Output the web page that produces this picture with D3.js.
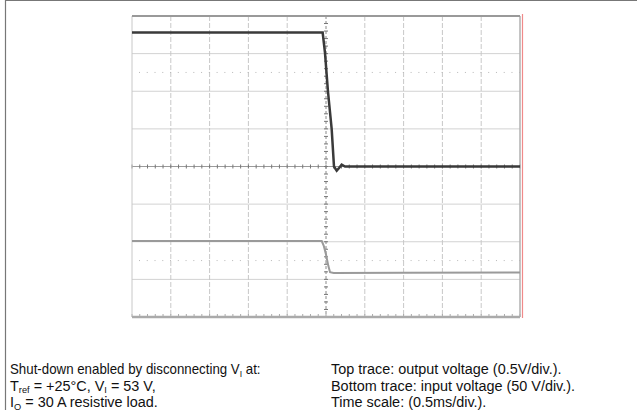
<!DOCTYPE html>
<html>
<head>
<meta charset="utf-8">
<script src="https://cdn.jsdelivr.net/npm/d3@7"></script>
<style>
  body { margin: 0; background: #fff; }
  text { font-family: "Liberation Sans", Arial, sans-serif; fill: #111; }
</style>
</head>
<body>
<div id="graph"></div>
<script>
// time in ms (0.5 ms/div), centre of screen = 0
const timeTicks = [-2.5, -2, -1.5, -1, -0.5, 0, 0.5, 1, 1.5, 2, 2.5];
// vertical divisions
const divTicks = [-4, -3, -2, -1, 0, 1, 2, 3, 4];
const markerDivs = [2.5, -2.5];

// top trace: output voltage, volts (0.5 V/div, ground at centre)
const outTime = [-2.5, -0.043, -0.013, 0.026, 0.073, 0.103, 0.138, 0.168, 0.202, 0.245, 2.5];
const outVolt = [1.78, 1.78, 1.51, 0.99, 0.5, 0.0, -0.055, -0.02, 0.025, 0.0, 0.0];

// bottom trace: input voltage, volts (50 V/div, ground at -3 div)
const inTime = [-2.5, -0.055, -0.03, 0.0, 0.03, 0.052, 0.1, 1.0, 2.5];
const inVolt = [51, 51, 45, 33, 18, 9.5, 8.6, 8.8, 9.2];

const leftNotes = [
  [["Shut-down enabled by disconnecting V"], ["I", "sub"], [" at:"]],
  [["T"], ["ref", "sub"], [" = +25°C, V"], ["I", "sub"], [" = 53 V,"]],
  [["I"], ["O", "sub"], [" = 30 A resistive load."]]
];
const rightNotes = [
  "Top trace: output voltage (0.5V/div.).",
  "Bottom trace: input voltage (50 V/div.).",
  "Time scale: (0.5ms/div.)."
];

const w = 637, h = 419;
const plot = { left: 132, right: 520, top: 16, bottom: 317 };

const svg = d3.select("#graph").append("svg")
  .attr("width", w).attr("height", h);

// page frame
svg.append("line").attr("x1", 5.5).attr("x2", w).attr("y1", 0.5).attr("y2", 0.5)
  .attr("stroke", "#777").attr("stroke-width", 1.2);
svg.append("line").attr("x1", 5.5).attr("x2", 5.5).attr("y1", 0).attr("y2", 410)
  .attr("stroke", "#777").attr("stroke-width", 1.2);

const xScale = d3.scaleLinear().domain([-2.5, 2.5]).range([plot.left, plot.right]);
const yScale = d3.scaleLinear().domain([-4, 4]).range([plot.bottom, plot.top]);
const outY = v => yScale(v / 0.5);
const inY = v => yScale(v / 50 - 3);

const grid = svg.append("g");

// horizontal grid lines
grid.selectAll(".hgrid")
  .data(divTicks.filter(d => d !== 0 && Math.abs(d) !== 4))
  .enter().append("line")
  .attr("x1", plot.left).attr("x2", plot.right)
  .attr("y1", d => yScale(d)).attr("y2", d => yScale(d))
  .attr("stroke", "#d2d2d2").attr("stroke-width", 1);

// vertical grid lines
grid.selectAll(".vgrid")
  .data(timeTicks.filter(d => d !== 0 && Math.abs(d) !== 2.5))
  .enter().append("line")
  .attr("x1", d => xScale(d)).attr("x2", d => xScale(d))
  .attr("y1", plot.top).attr("y2", plot.bottom)
  .attr("stroke", "#c8c8c8").attr("stroke-width", 1)
  .attr("stroke-dasharray", "5,2");

// dotted marker lines
grid.selectAll(".marker")
  .data(markerDivs)
  .enter().append("line")
  .attr("x1", plot.left + 7).attr("x2", plot.right)
  .attr("y1", d => yScale(d)).attr("y2", d => yScale(d))
  .attr("stroke", "#b8b8b8").attr("stroke-width", 1)
  .attr("stroke-dasharray", "1,6.76");

// centre axes with minor ticks
const x0 = xScale(0), y0 = yScale(0);
grid.append("line").attr("x1", plot.left).attr("x2", plot.right)
  .attr("y1", y0).attr("y2", y0).attr("stroke", "#9a9a9a").attr("stroke-width", 1);
grid.append("line").attr("x1", x0).attr("x2", x0)
  .attr("y1", plot.top).attr("y2", plot.bottom)
  .attr("stroke", "#8a8a8a").attr("stroke-width", 1).attr("stroke-dasharray", "3,2");

const minorT = d3.range(-25, 26).map(i => i / 10);
grid.selectAll(".xminor").data(minorT).enter().append("line")
  .attr("x1", d => xScale(d)).attr("x2", d => xScale(d))
  .attr("y1", y0 - 2).attr("y2", y0 + 2)
  .attr("stroke", "#777").attr("stroke-width", 1);
grid.selectAll(".xminorb").data(minorT).enter().append("line")
  .attr("x1", d => xScale(d)).attr("x2", d => xScale(d))
  .attr("y1", plot.bottom - 3).attr("y2", plot.bottom)
  .attr("stroke", "#aaa").attr("stroke-width", 1);
const minorV = d3.range(-20, 21).map(i => i / 5);
grid.selectAll(".yminor").data(minorV).enter().append("line")
  .attr("x1", x0 - 2).attr("x2", x0 + 2)
  .attr("y1", d => yScale(d)).attr("y2", d => yScale(d))
  .attr("stroke", "#777").attr("stroke-width", 1);

// plot frame
svg.append("line").attr("x1", plot.left).attr("x2", plot.left)
  .attr("y1", plot.top).attr("y2", plot.bottom).attr("stroke", "#c8c8c8");
svg.append("line").attr("x1", plot.right).attr("x2", plot.right)
  .attr("y1", plot.top).attr("y2", plot.bottom).attr("stroke", "#b0b0b0").attr("stroke-width", 1.5);
svg.append("line").attr("x1", plot.left).attr("x2", plot.right)
  .attr("y1", plot.top).attr("y2", plot.top).attr("stroke", "#999").attr("stroke-width", 2);
svg.append("line").attr("x1", plot.left).attr("x2", plot.right)
  .attr("y1", plot.bottom).attr("y2", plot.bottom).attr("stroke", "#aaa").attr("stroke-width", 2.5);
svg.append("line").attr("x1", plot.right + 2.5).attr("x2", plot.right + 2.5)
  .attr("y1", plot.top - 2).attr("y2", plot.bottom + 1)
  .attr("stroke", "#f08a8a").attr("stroke-width", 1.2);

// traces
const line = d3.line().x(d => xScale(d[0])).y(d => d[1]);

svg.append("path")
  .datum(inTime.map((t, i) => [t, inY(inVolt[i])]))
  .attr("d", line).attr("fill", "none")
  .attr("stroke", "#9a9a9a").attr("stroke-width", 2);

svg.append("path")
  .datum(outTime.map((t, i) => [t, outY(outVolt[i])]))
  .attr("d", line).attr("fill", "none")
  .attr("stroke", "#3a3a3a").attr("stroke-width", 2.5);

// notes
const notes = svg.append("g").attr("font-size", 14);
leftNotes.forEach((parts, i) => {
  const y = 374 + i * 16.5;
  // first line is set a little tighter in the original
  const sx = i === 0 ? 0.95 : 1.03;
  const t = notes.append("text")
    .attr("transform", `translate(10,${y}) scale(${sx},1)`);
  parts.forEach(p => {
    const s = t.append("tspan").text(p[0]);
    if (p[1] === "sub") s.attr("font-size", 9).attr("dy", 2.5);
    else if (t.selectAll("tspan").size() > 1) s.attr("dy", -2.5);
  });
});
rightNotes.forEach((s, i) => {
  notes.append("text")
    .attr("transform", `translate(331,${374 + i * 16.5}) scale(1.03,1)`)
    .text(s);
});
</script>
</body>
</html>
